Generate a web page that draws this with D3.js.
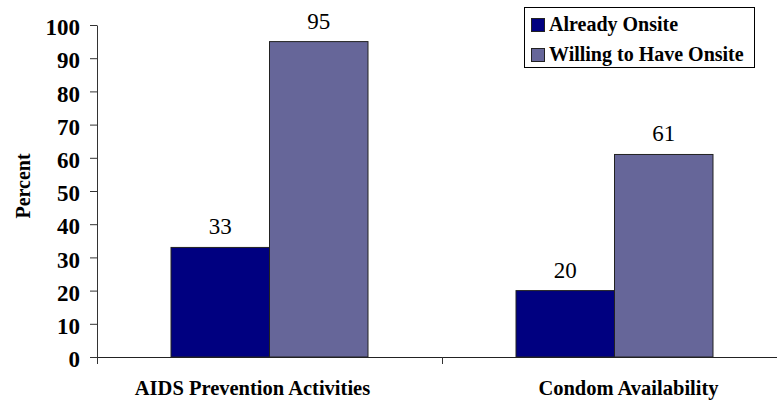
<!DOCTYPE html>
<html>
<head>
<meta charset="utf-8">
<script src="https://cdn.jsdelivr.net/npm/d3@7"></script>
<style>
  html, body { margin: 0; padding: 0; background: #fff; }
  svg { display: block; }
  svg text { font-family: "Liberation Serif", "Times New Roman", Tinos, "DejaVu Serif", serif; }
</style>
</head>
<body>
<svg id="chart" width="777" height="404"></svg>
<script>
// Survey results: share of sites with AIDS-related services
const categories = ["AIDS Prevention Activities", "Condom Availability"];
const seriesNames = ["Already Onsite", "Willing to Have Onsite"];
const alreadyOnsite = [33, 20];
const willingOnsite = [95, 61];
const seriesColors = ["#000080", "#666699"];
const yTicks = [0, 10, 20, 30, 40, 50, 60, 70, 80, 90, 100];
const yLabel = "Percent";

const seriesValues = [alreadyOnsite, willingOnsite];
const rows = categories.map((c, i) => ({
  category: c,
  values: seriesNames.map((s, k) => ({ series: s, value: seriesValues[k][i], color: seriesColors[k] }))
}));

const svg = d3.select("#chart");
const plotLeft = 97, plotBottom = 357, plotTop = 25;
const bandW = 345;

const y = d3.scaleLinear().domain([0, 100]).range([plotBottom, plotTop]);
const x0 = d3.scaleBand().domain(categories).range([plotLeft, plotLeft + bandW * categories.length]).padding(0);
const x1 = d3.scaleBand().domain(seriesNames)
  .range([x0.bandwidth() * 0.2145, x0.bandwidth() * (1 - 0.2145)]).padding(0);

// Bars
const groups = svg.append("g").selectAll("g").data(rows).join("g")
  .attr("transform", d => `translate(${x0(d.category)},0)`);

groups.selectAll("rect").data(d => d.values).join("rect")
  .attr("x", d => x1(d.series))
  .attr("y", d => y(d.value))
  .attr("width", x1.bandwidth())
  .attr("height", d => y(0) - y(d.value))
  .attr("fill", d => d.color)
  .attr("stroke", "#222")
  .attr("stroke-width", 1);

// Value labels
groups.selectAll("text.val").data(d => d.values).join("text")
  .attr("class", "val")
  .attr("x", d => x1(d.series) + x1.bandwidth() / 2)
  .attr("y", d => y(d.value) - 13)
  .attr("text-anchor", "middle")
  .attr("font-size", 23)
  .attr("fill", "#000")
  .text(d => d.value);

// Y axis
const yAxis = svg.append("g")
  .attr("transform", `translate(${plotLeft},0)`)
  .call(d3.axisLeft(y).tickValues(yTicks).tickSize(7).tickSizeOuter(0).tickPadding(10));
yAxis.attr("font-family", null);
yAxis.select(".domain").attr("stroke", "#333");
yAxis.selectAll(".tick line").attr("stroke", "#333");
yAxis.selectAll(".tick text")
  .attr("font-size", 23)
  .attr("font-weight", "bold")
  .attr("dy", "0.42em")
  .attr("fill", "#000");

// X axis line with ticks at category boundaries
const xr = x0.range();
svg.append("line")
  .attr("x1", xr[0]).attr("x2", xr[1])
  .attr("y1", plotBottom + 0.5).attr("y2", plotBottom + 0.5)
  .attr("stroke", "#222");
svg.append("g").selectAll("line").data(categories).join("line")
  .attr("x1", d => Math.round(x0(d)) + 0.5).attr("x2", d => Math.round(x0(d)) + 0.5)
  .attr("y1", plotBottom).attr("y2", plotBottom + 7)
  .attr("stroke", "#333");

// Category labels
const labelShift = [-17, 14];
svg.append("g").selectAll("text").data(categories).join("text")
  .attr("x", (d, i) => x0(d) + x0.bandwidth() / 2 + labelShift[i])
  .attr("y", 395)
  .attr("text-anchor", "middle")
  .attr("font-size", 20.5)
  .attr("font-weight", "bold")
  .text(d => d);

// Y axis title
svg.append("text")
  .attr("transform", `translate(30,186) rotate(-90)`)
  .attr("text-anchor", "middle")
  .attr("font-size", 20)
  .attr("font-weight", "bold")
  .text(yLabel);

// Legend
const legend = svg.append("g");
legend.append("rect")
  .attr("x", 524.5).attr("y", 7.5).attr("width", 230).attr("height", 60)
  .attr("fill", "#fff").attr("stroke", "#000");
const items = legend.selectAll("g").data(seriesNames).join("g")
  .attr("transform", (d, i) => `translate(531,${18 + i * 30})`);
items.append("rect")
  .attr("x", 0.5).attr("y", 0.5).attr("width", 13).attr("height", 13)
  .attr("fill", (d, i) => seriesColors[i]).attr("stroke", "#222");
items.append("text")
  .attr("x", 18).attr("y", 13)
  .attr("font-size", 20)
  .attr("font-weight", "bold")
  .text(d => d);
</script>
</body>
</html>
